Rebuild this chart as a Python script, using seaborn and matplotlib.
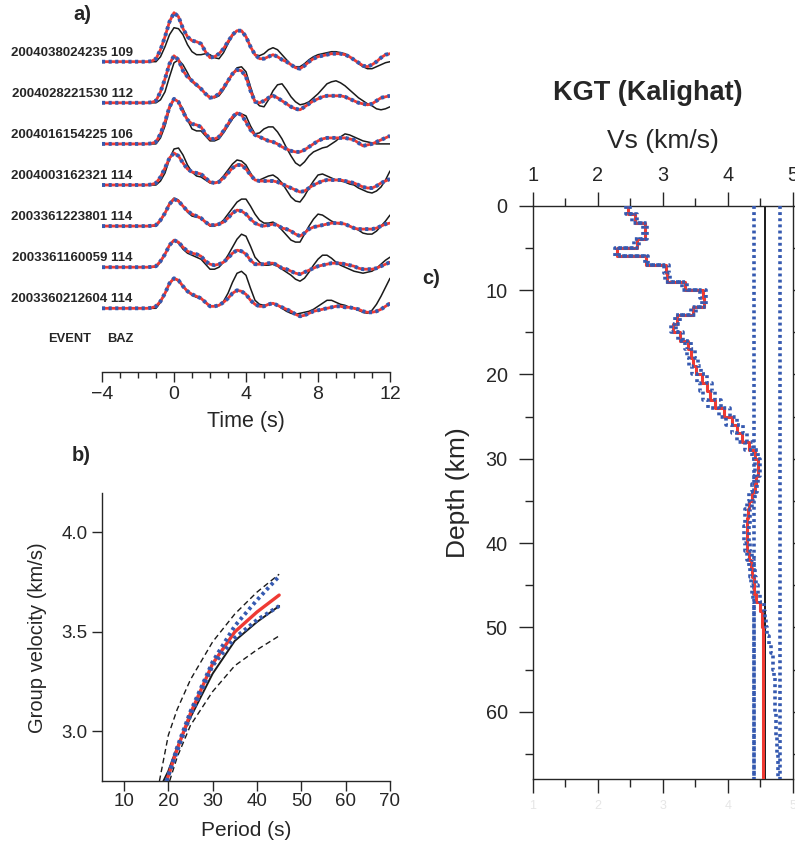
import numpy as np
import matplotlib
matplotlib.use("Agg")
import matplotlib.pyplot as plt
import seaborn as sns
from matplotlib.ticker import MultipleLocator, FormatStrFormatter

sns.set_style("ticks")
plt.rcParams['font.family'] = ['Liberation Sans', 'DejaVu Sans']
plt.rcParams['axes.linewidth'] = 1.0

# ---------------- data: panel a (receiver functions) ----------------
time_s = np.arange(-4.0, 12.001, 0.25)

event_ids = ["2004038024235", "2004028221530", "2004016154225", "2004003162321",
             "2003361223801", "2003361160059", "2003360212604"]
event_baz = [109, 112, 106, 114, 114, 114, 114]

Z = [0, 0, 0, 0, 0, 0, 0, 0, 0, 0]  # flat pre-signal part (-4 .. -1.75 s)

rf_pred_1 = Z + [0, 0.5, 3, 12, 25, 40, 49, 45, 33, 25, 21, 20, 18, 10, 4, 5, 8, 13, 20, 27,
                 31, 31, 25, 15, 7, 3, 3, 5, 7, 5, 2, 0, -3, -6, -7, -4, 0, 3, 5, 6,
                 7, 8, 8, 8, 7, 5, 2, -1, -4, -5, -3, 0, 4, 7, 8]
rf_obs_1 = Z + [0, 0, 0, 5, 15, 27, 34, 33, 27, 17, 10, 7, 7, 8, 7, 4, 3, 9, 18, 26,
                31, 31, 25, 15, 7, 6, 8, 12, 14, 12, 7, 2, -3, -5, -5, -2, 2, 5, 7, 8,
                9, 10, 10, 9, 8, 5, 2, -2, -5, -7, -7, -5, -3, -1, 0]
rf_pred_2 = Z + [0, 0.5, 2, 11, 24, 39, 47, 43, 32, 26, 22, 18, 14, 9, 5, 6, 9, 15, 22, 29,
                 33, 32, 26, 12, 1, 0, 2, 5, 7, 5, 2, -1, -4, -6, -7, -4, -1, 2, 4, 6,
                 7, 7, 7, 7, 6, 4, 2, 0, -1, -2, -1, 2, 5, 6, 7]
rf_obs_2 = Z + [0, 0, 0, 3, 11, 26, 40, 43, 38, 30, 21, 17, 14, 9, 6, 5, 7, 13, 21, 29,
                35, 36, 31, 16, 2, -3, -4, 3, 12, 18, 19, 13, 6, 1, -2, -1, 1, 5, 9, 14,
                19, 21, 22, 20, 17, 13, 9, 5, 2, -1, -3, -6, -7, -6, -4]
rf_pred_3 = Z + [0, 0.5, 2, 10, 22, 37, 45, 42, 32, 24, 20, 19, 17, 10, 5, 5, 7, 13, 20, 27,
                 31, 29, 22, 14, 9, 7, 5, 3, 2, 0, -3, -5, -7, -8, -8, -6, -3, 0, 3, 5,
                 6, 6, 6, 6, 6, 5, 4, 1, -2, -1, 0, 2, 4, 6, 8]
rf_obs_3 = Z + [0, 0, 0, 6, 18, 35, 45, 42, 35, 24, 15, 13, 13, 8, 3, 3, 5, 11, 18, 25,
                30, 30, 28, 18, 10, 11, 15, 17, 17, 12, 5, -4, -12, -19, -22, -18, -12, -8, -6, -4,
                -3, 0, 3, 7, 10, 9, 7, 5, 3, 2, 1, 0, 0, 0, 0]
rf_pred_4 = Z + [0, 0.5, 2, 8, 17, 27, 32, 29, 22, 16, 13, 12, 11, 7, 3, 2, 3, 7, 12, 17,
                 20, 20, 16, 10, 5, 4, 4, 4, 4, 3, 1, -1, -3, -5, -7, -6, -3, 0, 2, 4,
                 5, 5, 5, 5, 4, 3, 2, 0, -2, -3, -3, -1, 2, 4, 6]
rf_obs_4 = Z + [0, 0, 0, 4, 12, 26, 36, 37, 30, 20, 13, 9, 8, 5, 2, 2, 4, 9, 15, 21,
                25, 24, 20, 12, 5, 5, 7, 9, 10, 7, 2, -5, -12, -16, -17, -11, -3, 4, 10, 11,
                9, 7, 5, 4, 3, 1, 0, -3, -5, -7, -8, -6, -2, 5, 14]
rf_pred_5 = Z + [0, 0.3, 1, 6, 13, 22, 27, 25, 20, 15, 12, 10, 8, 4, 1, 1, 2, 4, 8, 13,
                 16, 15, 12, 7, 3, 1, 0, 1, 2, 1, -2, -3, -5, -8, -10, -7, -3, -1, 0, 1,
                 2, 3, 3, 3, 2, 0, -2, -3, -3, -3, -3, -2, 0, 2, 3]
rf_obs_5 = Z + [0, 0, 0, 5, 13, 23, 28, 26, 20, 14, 10, 9, 8, 4, 0, 0, 2, 6, 12, 18,
                24, 27, 27, 20, 12, 6, 3, 3, 4, 1, -4, -9, -14, -16, -16, -8, 0, 7, 12, 11,
                8, 5, 3, 2, 2, 0, -2, -4, -7, -8, -8, -5, 0, 5, 11]
rf_pred_6 = Z + [0, 0.3, 1, 6, 13, 22, 27, 25, 20, 16, 14, 13, 11, 6, 3, 2, 3, 5, 9, 14,
                 17, 16, 13, 7, 3, 3, 3, 4, 4, 2, -1, -2, -4, -6, -7, -5, -3, -1, 1, 2,
                 3, 4, 4, 4, 3, 2, 1, -1, -2, -2, -2, -1, 1, 3, 5]
rf_obs_6 = Z + [0, 0, 0, 5, 13, 22, 27, 24, 18, 14, 12, 10, 8, 3, -2, -2, 0, 5, 12, 20,
                28, 33, 31, 21, 10, 5, 2, 2, 3, 1, -2, -5, -8, -12, -14, -11, -5, 2, 8, 12,
                12, 9, 5, 2, 0, -2, -4, -5, -6, -5, -4, -1, 3, 7, 10]
rf_pred_7 = Z + [0, 0.5, 2, 7, 15, 25, 30, 28, 22, 17, 14, 12, 10, 6, 2, 2, 3, 6, 10, 15,
                 18, 17, 14, 8, 4, 2, 2, 4, 5, 3, 1, -1, -3, -6, -8, -7, -5, -3, -2, -1,
                 0, 1, 2, 2, 1, 1, 0, -1, -3, -4, -4, -3, -1, 2, 5]
rf_obs_7 = Z + [0, 0, 0, 6, 15, 25, 30, 27, 22, 17, 13, 11, 10, 6, 2, 2, 3, 7, 15, 26,
                35, 37, 33, 20, 8, 4, 3, 4, 5, 3, 0, -3, -5, -6, -5, -4, -3, -1, 2, 5,
                8, 8, 6, 4, 3, 1, 0, -2, -4, -5, -2, 4, 12, 21, 30]

rf_pred = [rf_pred_1, rf_pred_2, rf_pred_3, rf_pred_4, rf_pred_5, rf_pred_6, rf_pred_7]
rf_obs = [rf_obs_1, rf_obs_2, rf_obs_3, rf_obs_4, rf_obs_5, rf_obs_6, rf_obs_7]

# ---------------- data: panel b (dispersion) ----------------
period_obs = [18.9, 20, 22, 25, 30, 35, 40, 45]
vel_obs = [2.75, 2.80, 2.92, 3.07, 3.29, 3.455, 3.55, 3.63]
period_err_hi = [18.0, 20, 22, 25, 30, 35, 40, 45]
vel_err_hi = [2.75, 2.98, 3.11, 3.26, 3.45, 3.59, 3.70, 3.79]
period_err_lo = [20.3, 22, 25, 30, 35, 40, 45]
vel_err_lo = [2.75, 2.87, 3.03, 3.20, 3.33, 3.41, 3.48]
period_fit = [19.6, 22, 25, 30, 35, 40, 45]
vel_fit = [2.75, 2.91, 3.09, 3.34, 3.50, 3.60, 3.685]
vel_fit_max = [2.75, 2.92, 3.10, 3.35, 3.53, 3.66, 3.78]
vel_fit_min = [2.75, 2.90, 3.08, 3.33, 3.47, 3.56, 3.63]

# ---------------- data: panel c (Vs profile, 1-km layers 0-68 km) ----------------
layer_top_km = np.arange(0, 68)
vs_mean = [2.47, 2.57, 2.73, 2.73, 2.60, 2.29, 2.75, 3.05, 3.07, 3.34,
           3.62, 3.63, 3.47, 3.22, 3.16, 3.27, 3.39, 3.43, 3.47, 3.51,
           3.60, 3.68, 3.72, 3.80, 3.95, 4.07, 4.15, 4.22, 4.33, 4.42,
           4.46, 4.46, 4.44, 4.42, 4.38, 4.33, 4.31, 4.30, 4.29, 4.29,
           4.30, 4.33, 4.36, 4.38, 4.40, 4.41, 4.43, 4.50, 4.52, 4.53,
           4.55, 4.55, 4.55, 4.55, 4.55, 4.55, 4.55, 4.55, 4.55, 4.55,
           4.55, 4.55, 4.55, 4.55, 4.55, 4.55, 4.55, 4.55]
vs_min = [2.44, 2.53, 2.70, 2.70, 2.56, 2.26, 2.72, 3.02, 3.04, 3.30,
          3.58, 3.60, 3.43, 3.19, 3.13, 3.23, 3.35, 3.38, 3.41, 3.45,
          3.52, 3.58, 3.62, 3.70, 3.86, 3.98, 4.07, 4.15, 4.27, 4.38,
          4.42, 4.42, 4.40, 4.37, 4.33, 4.29, 4.27, 4.26, 4.25, 4.25,
          4.26, 4.29, 4.32, 4.34, 4.36, 4.38, 4.39, 4.40, 4.40, 4.40,
          4.40, 4.40, 4.40, 4.40, 4.40, 4.40, 4.40, 4.40, 4.40, 4.40,
          4.40, 4.40, 4.40, 4.40, 4.40, 4.40, 4.40, 4.40]
vs_max = [2.50, 2.61, 2.76, 2.76, 2.64, 2.33, 2.78, 3.09, 3.11, 3.38,
          3.66, 3.67, 3.51, 3.26, 3.20, 3.31, 3.44, 3.49, 3.54, 3.59,
          3.68, 3.76, 3.81, 3.89, 4.03, 4.15, 4.23, 4.30, 4.39, 4.46,
          4.49, 4.49, 4.47, 4.45, 4.42, 4.37, 4.35, 4.34, 4.33, 4.33,
          4.34, 4.37, 4.40, 4.42, 4.44, 4.46, 4.50, 4.56, 4.58, 4.59,
          4.61, 4.64, 4.67, 4.69, 4.70, 4.71, 4.72, 4.72, 4.73, 4.73,
          4.74, 4.74, 4.75, 4.76, 4.76, 4.77, 4.77, 4.78]
vs_prior_lo = 4.41
vs_reference = 4.57
vs_prior_hi = 4.80
depth_max = 68

# ---------------- styling ----------------
BLUE = "#3559b0"
RED = "#ef3a33"
BLACK = "#1a1a1a"
DOT = (0, (0.8, 0.9))

W, H = 795, 852
fig = plt.figure(figsize=(7.95, 8.52), dpi=100)


def rect(l, t, r, b):
    return [l / W, 1 - b / H, (r - l) / W, (b - t) / H]


def fx(px):
    return px / W


def fy(py):
    return 1 - py / H


def line(ax, x, y, **kw):
    sns.lineplot(x=np.asarray(x, float), y=np.asarray(y, float), ax=ax,
                 sort=False, estimator=None, **kw)


# ---------------- panel a ----------------
ax_a = fig.add_axes(rect(102, 5, 390, 372))
ax_a.set_xlim(-4, 12)
ax_a.set_ylim(0, 367)
spacing = 41.1
n = len(rf_pred)
for k in range(n):
    base = 63.7 + spacing * (n - 1 - k)
    obs = base + np.asarray(rf_obs[k], float)
    pred = base + np.asarray(rf_pred[k], float)
    line(ax_a, time_s, obs, color=BLACK, lw=1.1, zorder=2)
    line(ax_a, time_s, pred, color=RED, lw=2.0, zorder=3)
    line(ax_a, time_s, pred, color=BLUE, lw=2.8, linestyle=DOT, zorder=4)
    ax_a.text(-2.3, base + 9, f"{event_ids[k]} {event_baz[k]}", ha="right", va="center",
              fontsize=9.5, fontweight="bold", clip_on=False)

for s in ["left", "top", "right"]:
    ax_a.spines[s].set_visible(False)
ax_a.set_yticks([])
ax_a.set_xticks([-4, 0, 4, 8, 12])
ax_a.xaxis.set_minor_locator(MultipleLocator(1))
ax_a.tick_params(axis="x", which="major", length=7, width=1.0, direction="out", labelsize=14, pad=3)
ax_a.tick_params(axis="x", which="minor", length=4, width=1.0, direction="out")
ax_a.set_xlabel("")
ax_a.set_ylabel("")

fig.text(fx(82), fy(15), "a)", fontsize=14.5, fontweight="bold", ha="center", va="center")
fig.text(fx(48), fy(339), "EVENT", fontsize=9.3, fontweight="bold", ha="left", va="center")
fig.text(fx(133), fy(339), "BAZ", fontsize=9.3, fontweight="bold", ha="right", va="center")
fig.text(fx(246), fy(421), "Time (s)", fontsize=15.5, ha="center", va="center")

# ---------------- panel b ----------------
ax_b = fig.add_axes(rect(101.8, 492.7, 390, 781))
line(ax_b, period_err_hi, vel_err_hi, color=BLACK, lw=1.0, linestyle=(0, (4, 2.5)), zorder=2)
line(ax_b, period_err_lo, vel_err_lo, color=BLACK, lw=1.0, linestyle=(0, (4, 2.5)), zorder=2)
line(ax_b, period_obs, vel_obs, color=BLACK, lw=1.4, zorder=3)
line(ax_b, period_fit, vel_fit, color=RED, lw=2.4, zorder=4)
line(ax_b, period_fit, vel_fit_max, color=BLUE, lw=2.8, linestyle=DOT, zorder=5)
line(ax_b, period_fit, vel_fit_min, color=BLUE, lw=2.8, linestyle=DOT, zorder=5)
ax_b.set_xlim(5, 70)
ax_b.set_ylim(2.75, 4.2)
ax_b.set_xticks([10, 20, 30, 40, 50, 60, 70])
ax_b.set_yticks([3.0, 3.5, 4.0])
ax_b.yaxis.set_major_formatter(FormatStrFormatter("%.1f"))
for s in ["top", "right"]:
    ax_b.spines[s].set_visible(False)
ax_b.tick_params(axis="both", which="major", length=7, width=1.0, direction="out", labelsize=13.5)
ax_b.tick_params(axis="x", pad=2)
ax_b.tick_params(axis="y", pad=3)
ax_b.set_xlabel("")
ax_b.set_ylabel("")
fig.text(fx(81), fy(456), "b)", fontsize=14.5, fontweight="bold", ha="center", va="center")
fig.text(fx(246), fy(831), "Period (s)", fontsize=15, ha="center", va="center")
fig.text(fx(38), fy(638), "Group velocity (km/s)", fontsize=14.5, ha="center", va="center", rotation=90)

# ---------------- panel c ----------------
ax_c = fig.add_axes(rect(532.7, 205.7, 792.7, 779.2))
tops = layer_top_km.astype(float)
bots = tops + 1.0
depth_steps = np.column_stack([tops, bots]).ravel()


def stair(v):
    return np.repeat(np.asarray(v, float), 2)


line(ax_c, [vs_reference, vs_reference], [0, depth_max], color=BLACK, lw=1.4, zorder=2)
line(ax_c, [vs_prior_lo, vs_prior_lo], [0, depth_max], color=BLUE, lw=2.6, linestyle=DOT, zorder=3)
line(ax_c, [vs_prior_hi, vs_prior_hi], [0, depth_max], color=BLUE, lw=2.6, linestyle=DOT, zorder=3)
line(ax_c, stair(vs_mean), depth_steps, color=RED, lw=2.2, zorder=4)
line(ax_c, stair(vs_min), depth_steps, color=BLUE, lw=2.6, linestyle=DOT, zorder=5)
line(ax_c, stair(vs_max), depth_steps, color=BLUE, lw=2.6, linestyle=DOT, zorder=5)

ax_c.set_xlim(1, 5)
ax_c.set_ylim(depth_max, 0)
ax_c.set_xticks([1, 2, 3, 4, 5])
ax_c.xaxis.set_minor_locator(MultipleLocator(0.5))
ax_c.set_yticks([0, 10, 20, 30, 40, 50, 60])
ax_c.yaxis.set_minor_locator(MultipleLocator(5))
ax_c.tick_params(axis="x", which="both", top=True, bottom=True, labeltop=True, labelbottom=True,
                 direction="out", width=1.0)
ax_c.tick_params(axis="y", which="both", left=True, right=True, labelleft=True, labelright=False,
                 direction="out", width=1.0)
ax_c.tick_params(which="major", length=10, labelsize=14.3)
ax_c.tick_params(which="minor", length=5.5)
ax_c.tick_params(axis="x", pad=5)
ax_c.tick_params(axis="y", pad=8)
for t in ax_c.xaxis.get_major_ticks():
    t.label1.set_color("#e6e6e6")
    t.label1.set_fontsize(9)
for s in ax_c.spines.values():
    s.set_visible(True)
ax_c.set_xlabel("")
ax_c.set_ylabel("")

fig.text(fx(648), fy(93), "KGT (Kalighat)", fontsize=19.5, fontweight="bold", ha="center", va="center")
fig.text(fx(663), fy(141), "Vs (km/s)", fontsize=19, ha="center", va="center")
fig.text(fx(458), fy(493), "Depth (km)", fontsize=19, ha="center", va="center", rotation=90)
fig.text(fx(431), fy(278), "c)", fontsize=14.5, fontweight="bold", ha="center", va="center")

fig.savefig("out.png", dpi=100)
